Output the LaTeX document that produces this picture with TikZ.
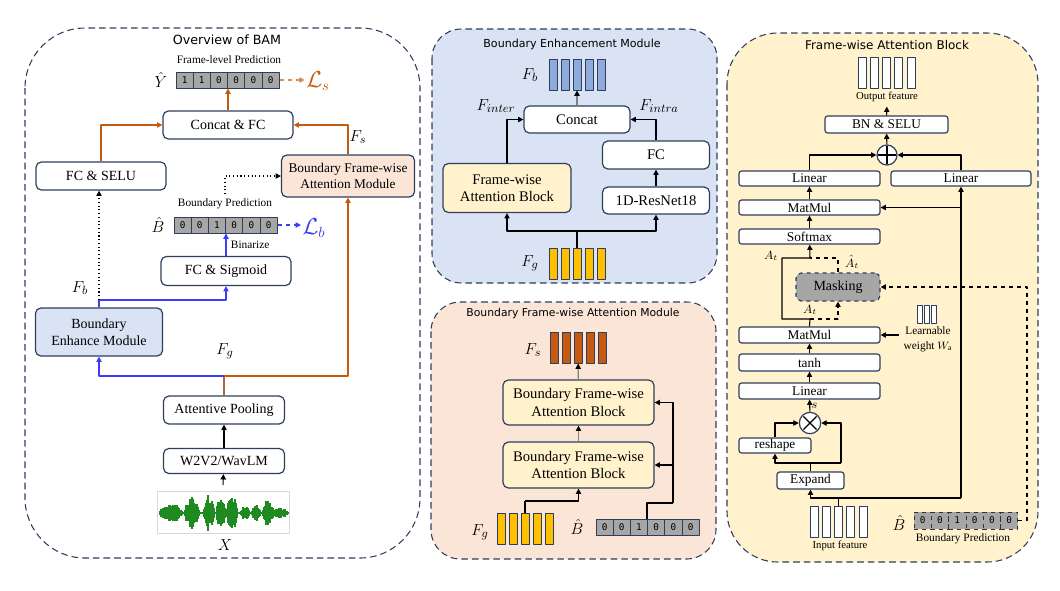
\documentclass[tikz,border=0pt]{standalone}
\usepackage{fontspec}
\setmainfont{Liberation Serif}
\newfontfamily\titlefont{DejaVu Sans}
\newfontfamily\cellfont{DejaVu Sans Mono}
\usetikzlibrary{arrows.meta,positioning,calc}
\definecolor{navy}{HTML}{2F3E5C}
\definecolor{rust}{HTML}{C55A11}
\definecolor{lossblue}{HTML}{3D3DF5}
\definecolor{paleblue}{HTML}{DAE3F3}
\definecolor{peach}{HTML}{FBE5D6}
\definecolor{cream}{HTML}{FFF2CC}
\definecolor{cellgray}{HTML}{A6A6A6}
\definecolor{fbblue}{HTML}{8FAADC}
\definecolor{fgold}{HTML}{FFC000}
\definecolor{wavegreen}{HTML}{1F8A1F}
\tikzset{
  wh/.style 2 args={minimum width=#1*0.75pt,minimum height=#2*0.75pt},
  blk/.style={draw=navy,line width=0.9pt,rounded corners=4pt,fill=white,inner sep=0pt,align=center,font=\fontsize{10.5}{12.5}\selectfont},
  mbox/.style={blk,font=\fontsize{11}{13}\selectfont},
  opbox/.style={blk,rounded corners=2pt,font=\fontsize{10}{11}\selectfont},
  panel/.style={draw=navy,line width=0.8pt,dash pattern=on 5pt off 3pt,rounded corners=#1},
  ttl/.style={font=\titlefont\fontsize{#1}{#1}\selectfont},
  note/.style={font=\fontsize{8.5}{10}\selectfont},
  cell/.style={draw=navy,fill=cellgray,line width=0.7pt,wh={17.2}{16},inner sep=0pt,font=\cellfont\fontsize{7}{8}\selectfont},
  rcell/.style={cell,draw=black!80,dashed,wh={17.33}{17}},
  vbar/.style={draw=navy,line width=0.7pt,wh={8}{31},inner sep=0pt},
  lab/.style={inner sep=1pt,font=\fontsize{13}{15}\selectfont},
  loss/.style={inner sep=1pt,font=\fontsize{16}{18}\selectfont},
  sml/.style={inner sep=1pt,font=\fontsize{9}{10}\selectfont},
  arr/.style={-{Triangle[length=4pt,width=4pt]},line width=0.8pt},
  garr/.style={-{Triangle[length=4pt,width=4pt,black]},draw=gray,line width=0.8pt},
  opsym/.style={circle,draw=navy,fill=white,line width=0.9pt,minimum size=15pt,inner sep=0pt},
}
\begin{document}
\begin{tikzpicture}[x=0.75pt,y=-0.75pt,line join=round,
  declare function={bump(\x,\c,\w)=max(0,1-(\x-\c)*(\x-\c)/(\w*\w));}]
\useasboundingbox (0,0) rectangle (1060,590);
% overview of BAM
\draw[panel=45pt] (25,28) rectangle (420,558);
\node[ttl=9.5] (ovt) at (227,40) {Overview of BAM};
\node[note] (flp) at (229,60) {Frame-level Prediction};
\node[lab] (yhat) at (161,80) {$\hat{Y}$};
\foreach \v [count=\i] in {1,1,0,0,0,0}
  \node[cell] (y\i) at (167.4+17.2*\i,80) {\v};
\node[loss,text=rust] (ls) at (318,81) {$\mathcal{L}_s$};
\draw[arr,rust!70,dashed] (y6.east) -- (y6.east-|ls.west);
\node[blk,wh={130}{28}] (cat) at (228,125) {Concat \& FC};
\draw[arr,rust] (cat) -- (cat|-y1.south);
\node[blk,wh={130}{28}] (selu) at (101,176) {FC \& SELU};
\node[blk,fill=peach,wh={133}{42},font=\fontsize{10}{12}\selectfont] (bfam) at (348,176) {Boundary Frame-wise\\Attention Module};
\draw[arr,rust] (selu) |- (cat);
\draw[arr,rust] (bfam) |- (cat);
\node[lab] (fs) at (358,137) {$F_s$};
\node[note] (bpt) at (225,204) {Boundary Prediction};
\draw[arr,dotted] (bpt.north) |- (bfam);
\node[lab] (bhat) at (158,225) {$\hat{B}$};
\foreach \v [count=\i] in {0,0,1,0,0,0}
  \node[cell] (b\i) at (165.4+17.2*\i,225) {\v};
\node[loss,text=lossblue] (lb) at (314,228) {$\mathcal{L}_b$};
\draw[arr,lossblue,dashed] (b6.east) -- (b6.east-|lb.west);
\node[blk,wh={130}{29}] (sig) at (226,271) {FC \& Sigmoid};
\draw[arr,lossblue] (sig) -- (sig|-b1.south) node[midway,right,note,text=black]{Binarize};
\node[blk,fill=paleblue,wh={127}{48}] (bem) at (99,332) {Boundary\\Enhance Module};
\coordinate (fbj) at (99,300);
\draw[lossblue,line width=0.8pt] (bem) -- (fbj);
\draw[arr,lossblue] (fbj) -| (sig);
\draw[arr,dotted] (fbj) -- (fbj|-selu.south);
\node[lab] (fb) at (80,288) {$F_b$};
\node[blk,wh={121}{28}] (ap) at (224,410) {Attentive Pooling};
\coordinate (fgj) at (224,376);
\draw[rust!60!gray,line width=0.8pt] (ap) -- (fgj);
\draw[arr,lossblue] (fgj) -| (bem);
\draw[arr,rust] (fgj) -| (bfam);
\node[lab] (fg) at (225,351) {$F_g$};
\node[blk,wh={121}{25}] (w2v) at (224,461) {W2V2/WavLM};
\draw[arr] (w2v) -- (ap);
\node[draw=black!15,wh={132}{42},inner sep=0pt] (wav) at (223,512) {};
\pgfmathsetseed{11}
\foreach \i in {0,...,128}{
  \pgfmathsetmacro\a{(1.2+9*bump(\i,11,12)+17*bump(\i,32,8)+18*bump(\i,49,6)+17*bump(\i,61,5)+18*bump(\i,72,6)+7*bump(\i,85,5)+8*bump(\i,96,5)+12*bump(\i,108,6)+4*bump(\i,120,9))*(0.5+0.5*rnd)}
  \draw[wavegreen,line width=0.8pt] (160+\i,513-\a) -- (160+\i,513+\a);
}
\draw[arr] ([yshift=4.5pt]wav.north) -- (w2v);
\node[lab] (x) at (225,545) {$X$};
% boundary enhancement module
\draw[panel=22pt,fill=paleblue] (432,29) rectangle (717,283);
\node[ttl=8.3] (bemt) at (572,44) {Boundary Enhancement Module};
\foreach \k in {0,...,4}
  \node[vbar,fill=fbblue] (bemb\k) at (553+12*\k,74.5) {};
\node[lab] (fbl) at (530,75) {$F_b$};
\node[mbox,wh={106}{27}] (cc) at (577,119.5) {Concat};
\draw[garr] (cc) -- (bemb2);
\node[mbox,fill=cream,wh={128}{49}] (fwab) at (507,188) {Frame-wise\\Attention Block};
\draw[arr] (fwab) |- (cc);
\node[lab] (fil) at (496,106) {$F_{inter}$};
\node[mbox,wh={107}{28}] (fc) at (656,155) {FC};
\draw[arr] (fc) |- (cc);
\node[lab] (fal) at (659,106) {$F_{intra}$};
\node[mbox,wh={107}{27}] (res) at (656,200.5) {1D-ResNet18};
\draw[arr] (res) -- (fc);
\foreach \k in {0,...,4}
  \node[vbar,fill=fgold] (bemg\k) at (553+12*\k,263.5) {};
\node[lab] (fgl) at (530,263) {$F_g$};
\coordinate (gj) at (577,231);
\draw[line width=0.8pt] (bemg2) -- (gj);
\draw[arr] (gj) -| (fwab);
\draw[arr] (gj) -| (res);
% boundary frame-wise attention module
\draw[panel=22pt,fill=peach] (431,302) rectangle (716,559);
\node[ttl=8.1] (bfat) at (573,314) {Boundary Frame-wise Attention Module};
\foreach \k in {0,...,4}
  \node[vbar,fill=rust] (fsb\k) at (554+12*\k,347.5) {};
\node[lab] (fsl) at (533,350) {$F_s$};
\node[mbox,fill=cream,wh={151}{45}] (blkB) at (578.5,402.5) {Boundary Frame-wise\\Attention Block};
\node[mbox,fill=cream,wh={151}{46}] (blkA) at (578.5,465) {Boundary Frame-wise\\Attention Block};
\draw[garr] (blkA) -- (blkB);
\draw[garr] (blkB) -- (fsb2);
\foreach \k in {0,...,4}
  \node[vbar,fill=fgold] (bfg\k) at (501+12*\k,528.5) {};
\node[lab] (fgl2) at (480,532) {$F_g$};
\coordinate (gj2) at (525,501);
\draw[line width=0.8pt] (bfg2) -- (gj2);
\draw[arr] (gj2) -| (blkA);
\node[lab] (bh2) at (577,527) {$\hat{B}$};
\foreach \v [count=\i] in {0,0,1,0,0,0}
  \node[cell] (mb\i) at (587.4+17.2*\i,527.5) {\v};
\coordinate (mbj) at (647,503);
\coordinate (mbr) at (673,503);
\draw[line width=0.8pt] (mbj|-mb3.north) -- (mbj) -- (mbr);
\draw[arr] (mbr) |- (blkB);
\draw[arr] (mbr|-blkA) -- (blkA);
% frame-wise attention block
\draw[panel=38pt,fill=cream] (727,33) rectangle (1038,562);
\node[ttl=9] (fwt) at (887,45) {Frame-wise Attention Block};
\foreach \k in {0,...,4}
  \node[vbar,fill=white] (ob\k) at (862+12.25*\k,73) {};
\node[note,font=\fontsize{8}{9}\selectfont] (oft) at (887,97) {Output feature};
\node[opbox,wh={123}{17}] (bn) at (886.5,124.5) {BN \& SELU};
\draw[arr] (bn) -- (oft);
\node[opsym] (pls) at (887,155) {};
\draw[line width=0.9pt,shorten <=1.5pt,shorten >=1.5pt] (pls.north) -- (pls.south);
\draw[line width=0.9pt,shorten <=1.5pt,shorten >=1.5pt] (pls.west) -- (pls.east);
\draw[arr] (pls) -- (bn);
\node[opbox,wh={141}{15}] (linL) at (809.5,178.5) {Linear};
\node[opbox,wh={140}{15}] (linR) at (961,178.5) {Linear};
\draw[arr] (linL) |- (pls);
\draw[arr] (linR) |- (pls);
\node[opbox,wh={141}{15}] (mmA) at (809.5,207.5) {MatMul};
\draw[arr] (mmA) -- (linL);
\node[opbox,wh={141}{15}] (smx) at (809.5,236.5) {Softmax};
\draw[arr] (smx) -- (mmA);
\node[opbox,fill=cellgray,dashed,rounded corners=4pt,wh={84}{28},font=\fontsize{10.5}{12}\selectfont] (mask) at (838,287) {Masking};
\node[opbox,wh={141}{16}] (mmB) at (809.5,335) {MatMul};
\node[opbox,wh={141}{17}] (tanh) at (809.5,362.5) {tanh};
\node[opbox,wh={141}{16}] (linB) at (809.5,391) {Linear};
\draw[arr] (linB) -- (tanh);
\draw[arr] (tanh) -- (mmB);
\coordinate (a1) at (810,319);
\coordinate (a2) at (782,319);
\coordinate (a3) at (782,258);
\coordinate (a4) at (810,258);
\draw[line width=0.8pt] (mmB.north) -- (a1) -- (a2) -- (a3) -- (a4);
\draw[arr] (a4) -- (smx);
\draw[arr,dashed] (a1) -| (mask);
\draw[line width=0.8pt,dashed] (mask) |- (a4);
\node[sml] (at1) at (771,256) {$A_t$};
\node[sml] (at2) at (810,310) {$A_t$};
\node[sml] (at3) at (852,262) {$\hat{A}_t$};
\foreach \k in {0,...,2}
  \node[vbar,wh={5}{18},fill=white] (lwb\k) at (920+7*\k,314) {};
\node[note,align=center,font=\fontsize{8.5}{11}\selectfont] (lw) at (928,339) {Learnable\\weight $W_{\mathrm{a}}$};
\draw[arr] (lw.west|-mmB) -- (mmB);
\node[opsym,minimum size=16pt] (tms) at (810,423) {};
\draw[line width=0.9pt,shorten <=1.5pt,shorten >=1.5pt] (tms.north east) -- (tms.south west);
\draw[line width=0.9pt,shorten <=1.5pt,shorten >=1.5pt] (tms.north west) -- (tms.south east);
\draw[arr] (tms) -- (linB) node[midway,right,sml]{$s$};
\node[opbox,wh={72}{15}] (rs) at (775,445.5) {reshape};
\node[opbox,wh={67}{17}] (expd) at (810.5,480.5) {Expand};
\draw[arr] (rs) |- (tms);
\coordinate (exj) at (810.5,463);
\coordinate (exr) at (841,463);
\draw[line width=0.8pt] (expd) -- (exj) -- (exr);
\draw[arr] (exj) -| (rs);
\draw[arr] (exr) |- (tms);
\foreach \k in {0,...,4}
  \node[vbar,fill=white] (ib\k) at (814+12.25*\k,522) {};
\node[note,font=\fontsize{8}{9}\selectfont] (ift) at (840,546) {Input feature};
\coordinate (inj) at (838.5,498);
\coordinate (rtj) at (961,498);
\draw[line width=0.8pt] (ib2) -- (inj) -- (rtj);
\draw[arr] (inj) -| (expd);
\draw[arr] (rtj) -- (linR);
\draw[arr] (rtj|-mmA) -- (mmA);
\node[lab] (bh3) at (899,523) {$\hat{B}$};
\foreach \v [count=\i] in {0,0,1,0,0,0}
  \node[rcell] (rb\i) at (905.3+17.33*\i,520.5) {\v};
\node[note] (bpt3) at (963,539) {Boundary Prediction};
\coordinate (d1) at (1027,520.5);
\draw[arr,dashed] (rb6.east) -- (d1) |- (mask);
\end{tikzpicture}
\end{document}
